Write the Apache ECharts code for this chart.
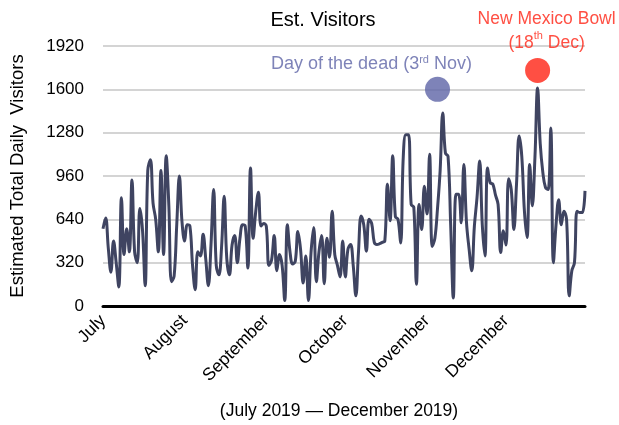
<!DOCTYPE html>
<html>
<head>
<meta charset="utf-8">
<script src="https://cdn.jsdelivr.net/npm/echarts@6/dist/echarts.min.js"></script>
<style>
  html, body { margin: 0; padding: 0; background: #fff; }
  #main { width: 619px; height: 425px; }
</style>
</head>
<body>
<div id="main"></div>
<script>
var FONT = '"Liberation Sans", Arial, sans-serif';

// daily visitors, one array per month
var july = [570, 650, 430, 250, 480, 320, 140, 800, 380, 570, 400, 930, 400, 320, 720, 560,
  150, 1000, 1080, 760, 640, 400, 1000, 380, 1110, 740, 180, 220, 600, 960, 620];
var august = [480, 600, 590, 300, 120, 400, 370, 530, 350, 150, 450, 860, 300, 230, 430, 810,
  350, 230, 450, 520, 320, 500, 600, 590, 280, 1020, 500, 700, 840, 590, 610];
var september = [590, 300, 340, 520, 260, 380, 300, 40, 600, 400, 310, 330, 550, 420, 170,
  370, 40, 400, 580, 180, 400, 520, 165, 500, 360, 700, 380, 300, 215, 480];
var october = [215, 420, 455, 300, 75, 400, 665, 600, 405, 640, 610, 470, 455, 460, 470, 480,
  900, 630, 1110, 660, 640, 465, 1100, 1265, 1265, 750, 730, 160, 750, 565, 885];
var november = [680, 1120, 440, 500, 720, 1000, 1425, 1130, 1105, 600, 60, 825, 825, 615,
  1045, 620, 420, 260, 590, 800, 1070, 600, 370, 1020, 910, 900, 820, 750, 395, 555];
var december = [450, 940, 860, 565, 900, 1255, 1105, 700, 505, 1045, 740, 1100, 1610, 1200,
  985, 875, 860, 1315, 320, 600, 785, 600, 700, 640, 75, 260, 320, 700, 690, 690, 850];

var monthNames = ['July', 'August', 'September', 'October', 'November', 'December'];
var monthData = [july, august, september, october, november, december];

// events marked on the chart
var eventIndex = [127, 165];
var eventValue = [1600, 1740];

var days = [];
var visitors = [];
var monthStart = {};
monthData.forEach(function (arr, m) {
  monthStart[days.length] = monthNames[m];
  arr.forEach(function (v, d) {
    days.push(monthNames[m] + ' ' + (d + 1));
    visitors.push(v);
  });
});

var chart = echarts.init(document.getElementById('main'));

var option = {
  animation: false,
  backgroundColor: '#fff',
  textStyle: { fontFamily: FONT },
  title: {
    text: 'Est. Visitors',
    left: 318,
    top: 5,
    textAlign: 'center',
    textStyle: { fontFamily: FONT, fontSize: 20, fontWeight: 'normal', color: '#000' }
  },
  grid: { left: 96, right: 34, top: 46, bottom: 118 },
  xAxis: {
    type: 'category',
    data: days,
    boundaryGap: false,
    name: '(July 2019 \u2014 December 2019)',
    nameLocation: 'middle',
    nameGap: 96,
    nameTextStyle: { fontFamily: FONT, fontSize: 17.5, color: '#000', padding: [0, 10, 0, 0] },
    axisLine: { lineStyle: { color: '#000', width: 3 } },
    axisTick: { show: false },
    axisLabel: {
      interval: function (i) { return monthStart[i] !== undefined; },
      rotate: 45,
      margin: 12,
      fontFamily: FONT,
      fontSize: 17.5,
      color: '#000',
      formatter: function (v, i) { return monthStart[i] || ''; }
    },
    splitLine: { show: false }
  },
  yAxis: {
    type: 'value',
    min: 0,
    max: 1920,
    interval: 320,
    name: 'Estimated Total Daily  Visitors',
    nameLocation: 'middle',
    nameGap: 76,
    nameTextStyle: { fontFamily: FONT, fontSize: 18.5, color: '#000' },
    axisLine: { show: false },
    axisTick: { show: false },
    axisLabel: {
      margin: 19, fontFamily: FONT, fontSize: 17, color: '#000',
      formatter: function (v) { return String(v); }
    },
    splitLine: { lineStyle: { color: '#c6c6c6', width: 1.5 } }
  },
  series: [
    {
      type: 'line',
      data: visitors,
      smooth: 0.4,
      showSymbol: false,
      lineStyle: { color: '#3f4461', width: 3 },
      z: 2
    },
    {
      type: 'scatter',
      symbolSize: 25,
      z: 3,
      data: [{
        value: [eventIndex[0], eventValue[0]],
        itemStyle: { color: '#5e64a6' },
        label: {
          show: true,
          position: 'top',
          offset: [-66, 1],
          color: '#5e64a6',
          fontFamily: FONT,
          fontSize: 18,
          formatter: 'Day of the dead (3{s|rd} Nov)',
          rich: { s: { fontSize: 11, verticalAlign: 'top', color: '#5e64a6', fontFamily: FONT } }
        }
      }, {
        value: [eventIndex[1], eventValue[1]],
        itemStyle: { color: '#ff2314' },
        label: {
          show: true,
          position: 'top',
          offset: [9, 2],
          color: '#ff2314',
          fontFamily: FONT,
          fontSize: 17.5,
          lineHeight: 24,
          align: 'center',
          formatter: 'New Mexico Bowl\n(18{s|th} Dec)',
          rich: { s: { fontSize: 11, verticalAlign: 'top', color: '#ff2314', fontFamily: FONT } }
        }
      }]
    }
  ]
};

chart.setOption(option);
</script>
</body>
</html>
